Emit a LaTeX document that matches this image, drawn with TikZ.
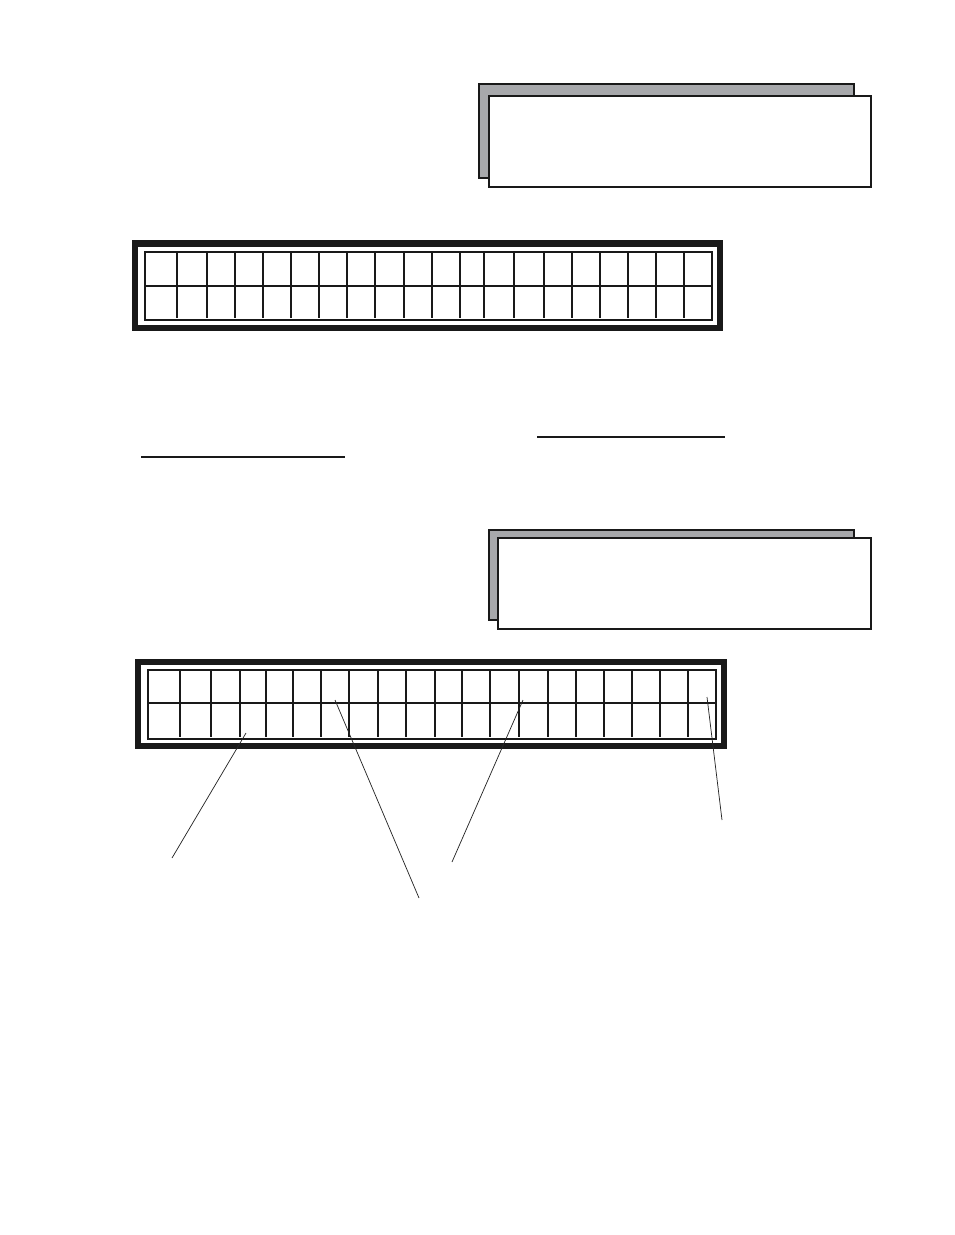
\documentclass[tikz,border=0pt]{standalone}
\begin{document}
\begin{tikzpicture}[x=0.75pt,y=-0.75pt,
  shadowbox/.style={draw=black!90,line width=1.1pt,fill={rgb,255:red,167;green,168;blue,171}},
  frontbox/.style={draw=black!90,line width=1.1pt,fill=white},
  lcdframe/.style={draw=black!90,line width=4.6pt},
  lcdgrid/.style={draw=black!90,line width=1.1pt},
  leader/.style={draw=black!85,line width=0.55pt},
  uline/.style={draw=black!90,line width=1pt}]
\useasboundingbox (0,0) rectangle (954,1235);
% ---- first message box
\fill[shadowbox] (479,84) rectangle (854,178);
\fill[frontbox] (489,96) rectangle (871,187);
\draw[shadowbox,fill=none] (479,84) rectangle (854,178);
\fill[white] (489.6,96.6) rectangle (870.4,186.4);
\draw[frontbox,fill=none] (489,96) rectangle (871,187);
% ---- first LCD
\draw[lcdframe] (135,243.5) rectangle (720,328);
\draw[lcdgrid] (145,252) rectangle (712,320);
\draw[lcdgrid] (145,286) -- (712,286);
\foreach \x in {177,207,235,263,291,319,347,375,404,432,460,484,514,544,572,600,628,656,684}
  \draw[lcdgrid] (\x,252) -- (\x,318);
% ---- underlines
\draw[uline] (537,437) -- (725,437);
\draw[uline] (141,457) -- (345,457);
% ---- second message box
\fill[shadowbox] (489,530) rectangle (854,620);
\fill[white] (498,538) rectangle (871,629);
\draw[frontbox,fill=none] (498,538) rectangle (871,629);
% ---- second LCD
\draw[lcdframe] (138,662) rectangle (724,746);
\draw[lcdgrid] (148,670) rectangle (716,739);
\draw[lcdgrid] (148,703) -- (716,703);
\foreach \x in {180,211,240,266,293,321,349,378,406,435,462,490,519,548,576,604,632,660,688}
  \draw[lcdgrid] (\x,670) -- (\x,737);
% ---- leader lines
\coordinate (a1) at (246,733); \coordinate (a2) at (172,858);
\coordinate (b1) at (335,700); \coordinate (b2) at (419,898);
\coordinate (c1) at (523,700); \coordinate (c2) at (452,862);
\coordinate (d1) at (707,697); \coordinate (d2) at (722,820);
\draw[leader] (a1) -- (a2);
\draw[leader] (b1) -- (b2);
\draw[leader] (c1) -- (c2);
\draw[leader] (d1) -- (d2);
\end{tikzpicture}
\end{document}
